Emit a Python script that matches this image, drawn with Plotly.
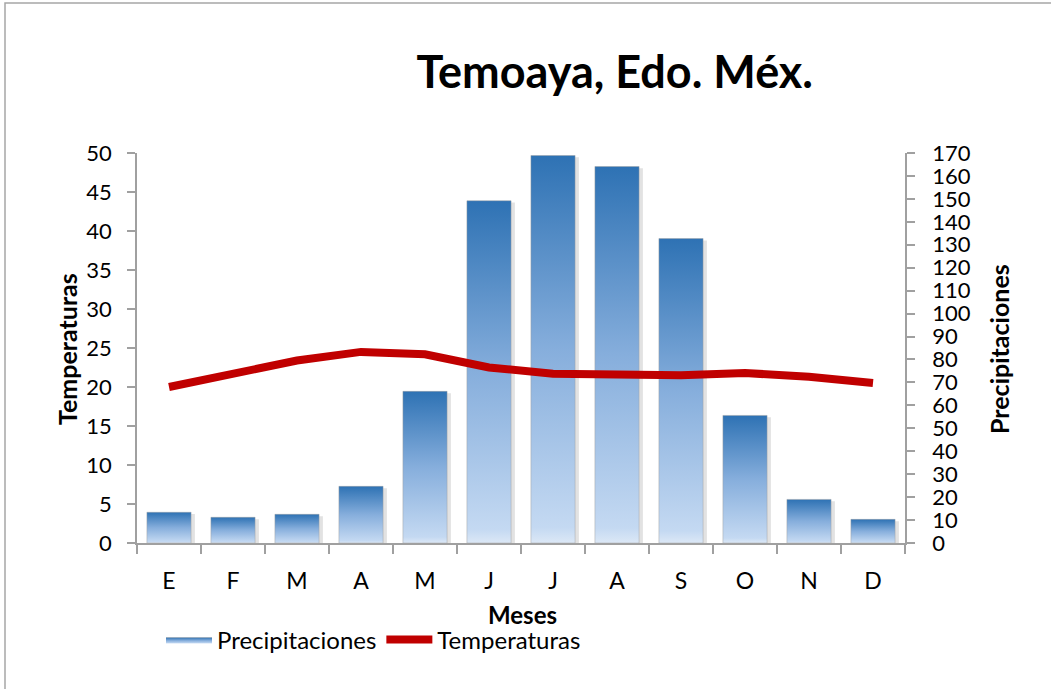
import plotly.graph_objects as go

# Monthly climate data, Temoaya (Estado de México)
meses = ["E", "F", "M", "A", "M", "J", "J", "A", "S", "O", "N", "D"]
precipitaciones = [13.4, 11.2, 12.5, 24.7, 66.1, 149.2, 168.9, 164.1, 132.7, 55.6, 19.0, 10.3]
temperaturas = [20.0, 21.7, 23.4, 24.5, 24.2, 22.5, 21.7, 21.6, 21.5, 21.8, 21.3, 20.5]

temp_ticks = list(range(0, 51, 5))
prec_ticks = list(range(0, 171, 10))

FONT = "Lato, 'Open Sans', sans-serif"
AXIS_GREY = "#A0A0A0"
HALF_W = 0.345  # half bar width, in category units

bar_scale = [
    [0.0, "#DCE8F6"],
    [0.04, "#C4D9F2"],
    [0.5, "#86AEDC"],
    [1.0, "#2E72B4"],
]

fig = go.Figure()

# Soft drop shadow behind each bar
for i, v in enumerate(precipitaciones):
    x0, x1 = i - HALF_W + 0.06, i + HALF_W + 0.06
    fig.add_trace(go.Scatter(
        x=[x0, x1, x1, x0, x0], y=[-0.8, -0.8, v - 0.8, v - 0.8, -0.8],
        yaxis="y", mode="none", fill="toself",
        fillcolor="rgba(110,110,110,0.20)",
        showlegend=False, hoverinfo="skip",
    ))

# Precipitation bars with a vertical colour gradient (right axis)
for i, v in enumerate(precipitaciones):
    x0, x1 = i - HALF_W, i + HALF_W
    fig.add_trace(go.Scatter(
        x=[x0, x1, x1, x0, x0], y=[0, 0, v, v, 0],
        yaxis="y", mode="lines", fill="toself",
        line=dict(color="rgba(160,160,160,0.45)", width=1),
        fillgradient=dict(type="vertical", colorscale=bar_scale, start=0, stop=v),
        name="Precipitaciones", legendgroup="prec",
        showlegend=(i == 0),
        hovertemplate=f"{meses[i]}: {v} mm<extra></extra>",
    ))

# Temperature line (left axis, drawn over the bars)
fig.add_trace(go.Scatter(
    x=list(range(len(meses))), y=temperaturas,
    mode="lines", line=dict(color="#C00000", width=8),
    name="Temperaturas", yaxis="y2",
))

fig.update_layout(
    width=1051, height=689,
    margin=dict(l=137, r=146, t=153, b=146),
    paper_bgcolor="white", plot_bgcolor="white",
    font=dict(family=FONT, size=23, color="#000000"),
    title=dict(
        text="<b>Temoaya, Edo. Méx.</b>",
        font=dict(family=FONT, size=45, color="#000000"),
        x=0.622, xref="paper", xanchor="center",
        y=1 - 72 / 689, yref="container", yanchor="middle",
    ),
    xaxis=dict(
        range=[-0.5, 11.5], tickmode="array",
        tickvals=list(range(len(meses))), ticktext=meses,
        ticks="", ticklabelstandoff=17,
        showline=True, linecolor=AXIS_GREY, linewidth=1.5,
        showgrid=False, zeroline=False, fixedrange=True,
        minor=dict(
            tickmode="array",
            tickvals=[k - 0.5 for k in range(len(meses) + 1)],
            ticks="outside", ticklen=9, tickwidth=1.5, tickcolor=AXIS_GREY,
            showgrid=False,
        ),
    ),
    # precipitation scale (right)
    yaxis=dict(
        range=[0, 170], tickmode="array", tickvals=prec_ticks,
        side="right", tickfont=dict(size=22),
        ticks="outside", ticklen=8, tickwidth=1.5, tickcolor=AXIS_GREY,
        ticklabelstandoff=13,
        showline=True, linecolor=AXIS_GREY, linewidth=1.5,
        showgrid=False, zeroline=False,
    ),
    # temperature scale (left)
    yaxis2=dict(
        range=[0, 50], tickmode="array", tickvals=temp_ticks,
        overlaying="y", side="left", tickfont=dict(size=22),
        ticks="outside", ticklen=8, tickwidth=1.5, tickcolor=AXIS_GREY,
        ticklabelstandoff=11,
        showline=True, linecolor=AXIS_GREY, linewidth=1.5,
        showgrid=False, zeroline=False,
    ),
    legend=dict(
        orientation="h", x=(161 - 137) / 768, xanchor="left",
        y=(543 - 640) / 390, yanchor="middle",
        font=dict(family=FONT, size=24),
        bgcolor="rgba(0,0,0,0)", itemwidth=46,
        traceorder="normal",
    ),
    showlegend=True,
)

# Axis titles
fig.add_annotation(
    text="<b>Temperaturas</b>", textangle=-90,
    xref="paper", yref="paper", x=(67 - 137) / 768, y=(543 - 349) / 390,
    xanchor="center", yanchor="middle",
    showarrow=False, font=dict(family=FONT, size=25),
)
fig.add_annotation(
    text="<b>Precipitaciones</b>", textangle=-90,
    xref="paper", yref="paper", x=(999 - 137) / 768, y=(543 - 349) / 390,
    xanchor="center", yanchor="middle",
    showarrow=False, font=dict(family=FONT, size=25),
)
fig.add_annotation(
    text="<b>Meses</b>",
    xref="paper", yref="paper", x=(522 - 137) / 768, y=(543 - 614) / 390,
    xanchor="center", yanchor="middle",
    showarrow=False, font=dict(family=FONT, size=24),
)

# Chart area frame
fig.add_shape(
    type="rect", xref="paper", yref="paper",
    x0=(5 - 137) / 768, x1=(1070 - 137) / 768,
    y0=(543 - 700) / 390, y1=(543 - 3) / 390,
    line=dict(color="#A6A6A6", width=1.5), fillcolor="rgba(0,0,0,0)",
    layer="below",
)

fig.write_html("out.html")
